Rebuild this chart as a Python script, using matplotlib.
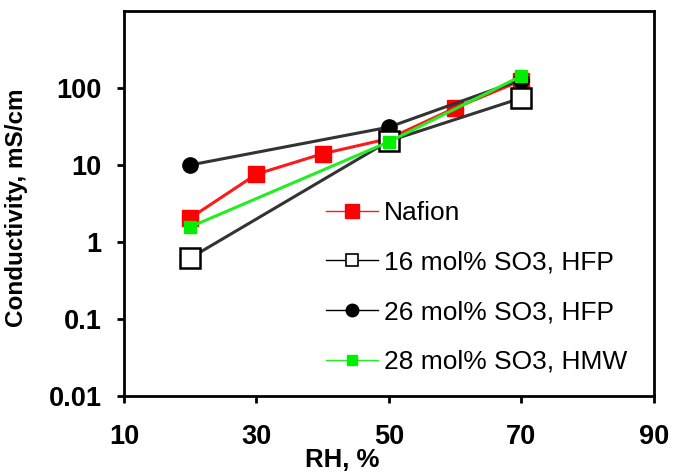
import matplotlib
matplotlib.use("Agg")
import matplotlib.pyplot as plt
from matplotlib.lines import Line2D
from matplotlib.ticker import FixedLocator, NullLocator, FixedFormatter

plt.rcParams['font.family'] = ['Liberation Sans', 'DejaVu Sans']

# Data
rh_nafion = [20, 30, 40, 50, 60, 70]
cond_nafion = [2.05, 7.6, 14, 22, 55, 125]
rh_16 = [20, 50, 70]
cond_16 = [0.62, 20.5, 74]
rh_26 = [20, 50, 70]
cond_26 = [10, 31, 128]
rh_28 = [20, 50, 70]
cond_28 = [1.57, 20, 143]

labels = ["Nafion", "16 mol% SO3, HFP", "26 mol% SO3, HFP", "28 mol% SO3, HMW"]
xticks = [10, 30, 50, 70, 90]
yticks = [0.01, 0.1, 1, 10, 100]
yticklabels = ["0.01", "0.1", "1", "10", "100"]

fig = plt.figure(figsize=(6.74, 4.76), dpi=100)
ax = fig.add_axes([0.184, 0.168, 0.786, 0.809])

ax.plot(rh_nafion, cond_nafion, color='#ff1a1a', lw=2.2, marker='s', ms=11,
        mfc='#ff0000', mec='#ff0000', zorder=2)
ax.plot(rh_26, cond_26, color='#333333', lw=2.2, marker='o', ms=11,
        mfc='black', mec='black', zorder=3)
ax.plot(rh_16, cond_16, color='#333333', lw=2.2, marker='s', ms=14,
        mfc='white', mec='black', mew=1.8, zorder=4)
ax.plot(rh_28, cond_28, color='#22ee22', lw=2.2, marker='s', ms=9,
        mfc='#00ee00', mec='#00ee00', zorder=5)

ax.set_yscale('log')
ax.set_xlim(10, 90)
ax.set_ylim(0.01, 1000)
ax.xaxis.set_major_locator(FixedLocator(xticks))
ax.yaxis.set_major_locator(FixedLocator(yticks))
ax.yaxis.set_major_formatter(FixedFormatter(yticklabels))
ax.yaxis.set_minor_locator(NullLocator())
ax.xaxis.set_minor_locator(NullLocator())

for s in ax.spines.values():
    s.set_linewidth(2.0)
ax.tick_params(axis='both', direction='out', length=5, width=2.0,
               labelsize=19.5)
ax.tick_params(axis='y', pad=11)
ax.tick_params(axis='x', pad=15)
for t in ax.get_xticklabels() + ax.get_yticklabels():
    t.set_fontweight('bold')

ax.set_ylabel("Conductivity, mS/cm", fontsize=17.5, fontweight='bold')
ax.yaxis.set_label_coords(-0.181, 0.488)
ax.set_xlabel("RH, %", fontsize=18.5, fontweight='bold')
ax.xaxis.set_label_coords(0.411, -0.166)
ax.xaxis.label.set_va('center')

handles = [
    Line2D([], [], color='#ff1a1a', lw=1, marker='s', ms=10, mfc='#ff0000', mec='#ff0000'),
    Line2D([], [], color='black', lw=1, marker='s', ms=9, mfc='white', mec='black', mew=1.2),
    Line2D([], [], color='black', lw=1, marker='o', ms=9, mfc='black', mec='black'),
    Line2D([], [], color='#22ee22', lw=1, marker='s', ms=7, mfc='#00ee00', mec='#00ee00'),
]
leg = ax.legend(handles, labels, loc='upper left', bbox_to_anchor=(326/674, (476-201)/476),
                bbox_transform=fig.transFigure, frameon=False, fontsize=19,
                handlelength=1.97, handletextpad=0.23, labelspacing=0.97,
                borderpad=0, borderaxespad=0)

fig.savefig("out.png", dpi=100)
